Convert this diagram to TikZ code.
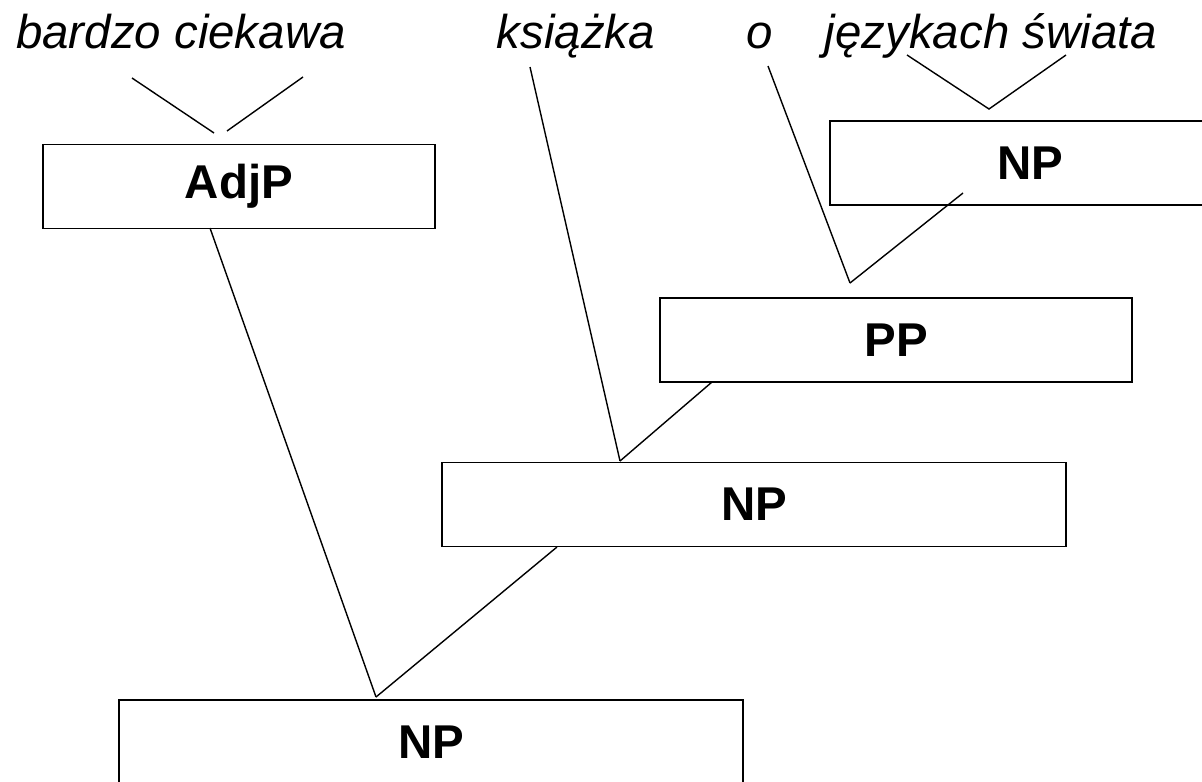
\documentclass[tikz,border=0pt]{standalone}
\usepackage{fontspec}
\setmainfont{Liberation Sans}
\begin{document}
\begin{tikzpicture}[x=0.02cm,y=-0.02cm,
  phrase/.style={draw,line width=1.1pt,inner sep=0pt,minimum height=1.68cm,font=\fontsize{27}{32}\selectfont\bfseries},
  word/.style={anchor=base,inner sep=0pt,font=\fontsize{27}{32}\selectfont\itshape},
  branch/.style={line width=0.8pt}]
  \useasboundingbox (0,0) rectangle (1202,781);
  \node[word] (bc) at (181,48) {bardzo ciekawa};
  \node[word] (ks) at (576,48) {książka};
  \node[word] (o) at (760,48) {o};
  \node[word] (js) at (991,48) {językach świata};
  \node[phrase,minimum width=7.84cm] (adjp) at (239,186.5) {AdjP};
  \node[phrase,minimum width=8cm] (nptop) at (1030,163) {NP};
  \node[phrase,minimum width=9.44cm] (pp) at (896,340) {PP};
  \node[phrase,minimum width=12.48cm] (npmid) at (754,504.5) {NP};
  \node[phrase,minimum width=12.48cm] (npbot) at (431,742) {NP};
  \coordinate (bc-l) at (132,78);
  \coordinate (bc-r) at (303,77);
  \coordinate (adjp-l) at (214,133);
  \coordinate (adjp-r) at (227,131);
  \coordinate (js-l) at (907,55);
  \coordinate (js-r) at (1066,55);
  \coordinate (nptop-top) at (989,109);
  \coordinate (ks-foot) at (530,67);
  \coordinate (o-foot) at (768,66);
  \coordinate (pp-top) at (850,283);
  \coordinate (nptop-bot) at (963,193);
  \coordinate (pp-bot) at (712,382);
  \coordinate (npmid-top) at (620,461);
  \coordinate (adjp-bot) at (210,228);
  \coordinate (npmid-bot) at (557,547);
  \coordinate (npbot-top) at (376,697);
  \draw[branch] (bc-l)--(adjp-l);
  \draw[branch] (bc-r)--(adjp-r);
  \draw[branch] (js-l)--(nptop-top)--(js-r);
  \draw[branch] (ks-foot)--(npmid-top);
  \draw[branch] (o-foot)--(pp-top);
  \draw[branch] (nptop-bot)--(pp-top);
  \draw[branch] (pp-bot)--(npmid-top);
  \draw[branch] (adjp-bot)--(npbot-top);
  \draw[branch] (npmid-bot)--(npbot-top);
\end{tikzpicture}
\end{document}
